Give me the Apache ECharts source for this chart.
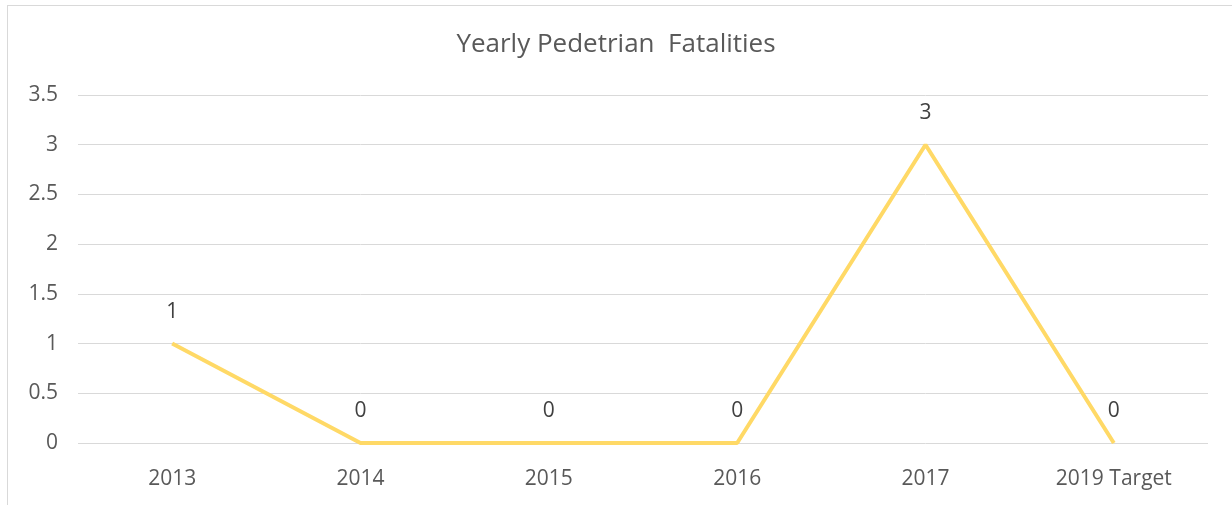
<!DOCTYPE html>
<html>
<head>
<meta charset="utf-8">
<script src="https://cdn.jsdelivr.net/npm/echarts@6/dist/echarts.min.js"></script>
<style>
	html, body { margin: 0; padding: 0; background: #fff; }
	.box {
		position: absolute;
		left: 7px;
		top: 5px;
		width: 1240px;
		height: 520px;
		border-left: 1px solid #d9d9d9;
		border-top: 1px solid #d9d9d9;
	}
	#chart { position: absolute; left: 0; top: 0; width: 1232px; height: 505px; }
</style>
</head>
<body>
<div class="box"></div>
<div id="chart"></div>
<script>
	const categories = ['2013', '2014', '2015', '2016', '2017', '2019 Target']
	const fatalities = [1, 0, 0, 0, 3, 0]
	const yTicks = [0, 0.5, 1, 1.5, 2, 2.5, 3, 3.5]

	const textColor = '#595959'
	const font = '"Open Sans", "Noto Sans", sans-serif'

	const mychart = echarts.init(document.getElementById('chart'))
	mychart.setOption({
		animation: false,
		title: {
			text: 'Yearly Pedetrian  Fatalities',
			left: 'center',
			top: 27,
			textStyle: {
				color: textColor,
				fontSize: 26,
				fontWeight: 'normal',
				fontFamily: font,
			},
		},
		grid: {
			left: 78,
			right: 24,
			top: 95,
			bottom: 62,
		},
		xAxis: {
			type: 'category',
			data: categories,
			boundaryGap: true,
			axisLine: { show: false },
			axisTick: { show: false },
			axisLabel: {
				color: textColor,
				fontSize: 21,
				fontFamily: font,
				margin: 26,
			},
		},
		yAxis: {
			type: 'value',
			min: yTicks[0],
			max: yTicks[yTicks.length - 1],
			interval: 0.5,
			axisLine: { show: false },
			axisTick: { show: false },
			axisLabel: {
				color: textColor,
				fontSize: 21,
				fontFamily: font,
				margin: 20,
			},
			splitLine: {
				lineStyle: { color: '#d9d9d9', width: 1 },
			},
		},
		series: [
			{
				type: 'line',
				data: fatalities,
				symbol: 'circle',
				symbolSize: 0,
				showSymbol: true,
				lineStyle: { color: '#FFD966', width: 4 },
				itemStyle: { color: '#FFD966' },
				label: {
					show: true,
					position: 'top',
					distance: 21,
					color: '#404040',
					fontSize: 21,
					fontFamily: font,
				},
			},
		],
	})
</script>
</body>
</html>
